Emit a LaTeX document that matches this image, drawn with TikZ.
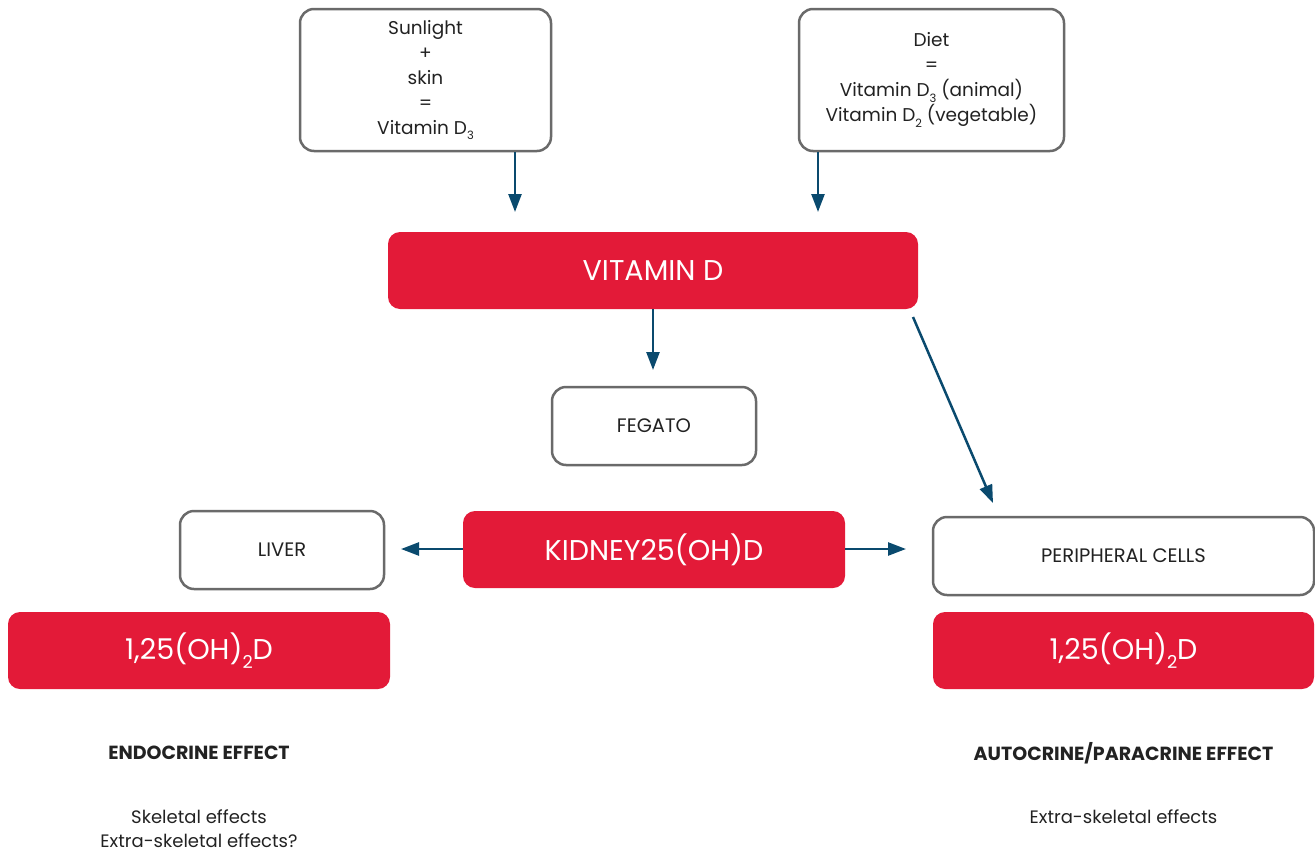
\documentclass[tikz,border=0pt]{standalone}
\usepackage{fontspec}
\setmainfont{Poppins}
\usetikzlibrary{arrows.meta}
\definecolor{vdred}{HTML}{E31A38}
\definecolor{vdblue}{HTML}{0A4A6E}
\definecolor{vdgray}{HTML}{6A6A6A}
\definecolor{vdtext}{HTML}{222222}
\newcommand\lowsub[1]{\raisebox{-0.55ex}{\fontsize{0.62em}{0.62em}\selectfont #1}}
\tikzset{
  whitebox/.style={draw=vdgray, line width=2.5pt, rounded corners=14pt, fill=white, align=center,
    text=vdtext, font=\fontsize{18.5}{25}\selectfont, inner sep=0pt},
  capbox/.style={whitebox, font=\fontsize{19.5}{25}\selectfont},
  redbox/.style={fill=vdred, rounded corners=12pt, text=white, align=center,
    font=\fontsize{28.6}{32}\selectfont, inner sep=0pt},
  arr/.style={draw=vdblue, line width=2.5pt, -{Triangle[length=18pt,width=13pt]}},
  lbl/.style={text=vdtext, align=center, font=\fontsize{18}{24}\selectfont},
  blbl/.style={text=vdtext, align=center, font=\fontsize{19}{24}\selectfont\bfseries}
}
\begin{document}
\begin{tikzpicture}[x=1pt,y=-1pt]
\useasboundingbox (0,0) rectangle (1315,854);
\node[whitebox, minimum width=251pt, minimum height=142pt] (sun) at (425.5,80)
  {Sunlight\\+\\skin\\=\\Vitamin D\lowsub{3}};
\node[whitebox, minimum width=265pt, minimum height=142pt] (diet) at (931.5,80)
  {Diet\\=\\Vitamin D\lowsub{3} (animal)\\Vitamin D\lowsub{2} (vegetable)};
\node[redbox, minimum width=530pt, minimum height=77pt] (vitd) at (653,270.5) {VITAMIN D};
\node[capbox, minimum width=204pt, minimum height=78pt] (feg) at (654,426) {FEGATO};
\node[redbox, minimum width=382pt, minimum height=77pt] (kid) at (654,549.5) {KIDNEY25(OH)D};
\node[capbox, minimum width=204pt, minimum height=78pt] (liv) at (282,550) {LIVER};
\node[capbox, minimum width=381pt, minimum height=78pt] (per) at (1123.5,556) {PERIPHERAL CELLS};
\node[redbox, minimum width=382pt, minimum height=77pt] (ohl) at (199,650.5) {1,25(OH)\lowsub{2}D};
\node[redbox, minimum width=381pt, minimum height=77pt] (ohr) at (1123.5,650.5) {1,25(OH)\lowsub{2}D};
\node[blbl] (endo) at (199,753) {ENDOCRINE EFFECT};
\node[lbl] (skel) at (199,829) {Skeletal effects\\Extra-skeletal effects?};
\node[blbl] (auto) at (1123.5,753) {AUTOCRINE/PARACRINE EFFECT};
\node[lbl] (extra) at (1123.5,817) {Extra-skeletal effects};
\coordinate (a1) at (515,212);
\coordinate (a2) at (818,212);
\coordinate (a3) at (653,370);
\coordinate (d0) at (913,317);
\coordinate (d1) at (993,503);
\coordinate (l1) at (401,549);
\coordinate (r1) at (906,549);
\draw[arr] (sun.south -| a1) -- (a1);
\draw[arr] (diet.south -| a2) -- (a2);
\draw[arr] (vitd.south -| a3) -- (a3);
\draw[arr] (d0) -- (d1);
\draw[arr] (kid.west |- l1) -- (l1);
\draw[arr] (kid.east |- r1) -- (r1);
\end{tikzpicture}
\end{document}
